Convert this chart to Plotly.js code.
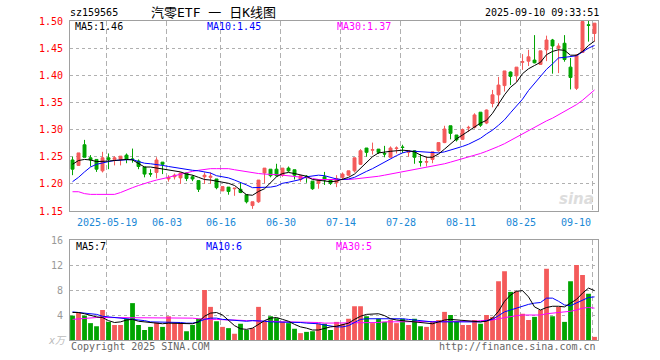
<!DOCTYPE html>
<html><head><meta charset="utf-8">
<script src="https://cdn.plot.ly/plotly-3.0.1.min.js"></script>
<style>html,body{margin:0;padding:0;background:#fff}#c{width:660px;height:360px}</style>
</head><body><div id="c"></div><script>
const tickIdx = [6,16,25,35,45,55,65,75,87];
const tickLabels = ['2025-05-19','06-03','06-16','06-30','07-14','07-28','08-11','08-25','09-10'];

const openP = [1.244,1.234,1.272,1.248,1.245,1.224,1.248,1.245,1.245,1.253,1.246,1.242,1.231,1.219,1.221,1.240,1.209,1.213,1.211,1.220,
1.213,1.206,1.213,1.212,1.209,1.187,1.194,1.191,1.190,1.180,1.160,1.167,1.220,1.227,1.227,1.216,1.229,1.226,1.208,1.214,
1.205,1.201,1.213,1.207,1.202,1.212,1.216,1.224,1.236,1.266,1.262,1.264,1.256,1.249,1.265,1.268,1.258,1.261,1.241,1.240,
1.245,1.261,1.276,1.307,1.290,1.282,1.303,1.304,1.332,1.312,1.348,1.364,1.381,1.406,1.399,1.424,1.426,1.428,1.420,1.447,
1.465,1.450,1.459,1.415,1.376,1.442,1.493,1.477];
const highP = [1.250,1.257,1.281,1.253,1.245,1.259,1.256,1.251,1.251,1.256,1.265,1.245,1.231,1.227,1.249,1.240,1.216,1.219,1.221,1.221,
1.216,1.206,1.221,1.221,1.209,1.195,1.194,1.192,1.203,1.180,1.167,1.207,1.229,1.227,1.237,1.229,1.232,1.226,1.215,1.216,
1.205,1.208,1.222,1.207,1.216,1.221,1.224,1.248,1.264,1.266,1.276,1.264,1.270,1.269,1.269,1.272,1.262,1.262,1.255,1.250,
1.259,1.276,1.307,1.307,1.290,1.302,1.307,1.330,1.332,1.337,1.373,1.397,1.408,1.407,1.415,1.439,1.447,1.474,1.445,1.473,
1.467,1.459,1.474,1.432,1.439,1.500,1.500,1.496];
const lowP = [1.216,1.233,1.249,1.232,1.222,1.221,1.227,1.234,1.234,1.238,1.239,1.227,1.212,1.213,1.210,1.218,1.204,1.208,1.200,1.205,
1.205,1.185,1.200,1.200,1.190,1.187,1.180,1.178,1.183,1.164,1.154,1.165,1.201,1.212,1.213,1.213,1.222,1.208,1.204,1.202,
1.189,1.191,1.198,1.198,1.194,1.207,1.215,1.221,1.235,1.250,1.254,1.255,1.249,1.249,1.256,1.257,1.250,1.237,1.232,1.232,
1.238,1.259,1.275,1.282,1.278,1.281,1.296,1.302,1.305,1.310,1.341,1.343,1.370,1.382,1.388,1.410,1.417,1.422,1.419,1.426,
1.403,1.404,1.425,1.374,1.373,1.441,1.462,1.462];
const closeP = [1.227,1.257,1.249,1.244,1.227,1.248,1.245,1.248,1.251,1.245,1.245,1.232,1.218,1.218,1.244,1.236,1.212,1.216,1.220,1.210,
1.209,1.190,1.216,1.214,1.193,1.195,1.186,1.192,1.184,1.167,1.167,1.207,1.229,1.215,1.215,1.229,1.224,1.216,1.215,1.213,
1.191,1.208,1.207,1.201,1.210,1.218,1.224,1.248,1.261,1.258,1.263,1.258,1.255,1.266,1.266,1.267,1.261,1.249,1.240,1.241,
1.259,1.276,1.301,1.293,1.281,1.300,1.304,1.327,1.308,1.336,1.364,1.382,1.408,1.398,1.415,1.425,1.434,1.423,1.445,1.465,
1.454,1.454,1.429,1.396,1.437,1.499,1.492,1.496];

const ma5P = [1.236,1.243,1.245,1.244,1.241,1.241,1.242,1.243,1.244,1.245,1.244,1.237,1.231,1.231,1.229,1.227,1.226,1.224,1.222,1.218,
1.216,1.212,1.208,1.207,1.205,1.203,1.201,1.197,1.189,1.180,1.179,1.186,1.191,1.203,1.213,1.219,1.221,1.219,1.216,1.214,
1.208,1.207,1.205,1.204,1.205,1.208,1.212,1.218,1.229,1.240,1.250,1.257,1.259,1.260,1.261,1.262,1.261,1.259,1.253,1.249,
1.249,1.255,1.264,1.274,1.283,1.290,1.297,1.304,1.312,1.317,1.330,1.347,1.364,1.378,1.387,1.403,1.412,1.418,1.424,1.438,
1.444,1.447,1.446,1.437,1.437,1.444,1.455,1.463];
const ma10P = [1.204,1.212,1.222,1.231,1.236,1.239,1.241,1.243,1.244,1.245,1.245,1.241,1.238,1.237,1.236,1.234,1.232,1.230,1.228,1.227,
1.225,1.224,1.222,1.220,1.215,1.213,1.211,1.207,1.203,1.198,1.193,1.193,1.193,1.194,1.196,1.201,1.203,1.205,1.208,1.213,
1.215,1.216,1.215,1.212,1.209,1.208,1.209,1.212,1.218,1.223,1.228,1.234,1.241,1.247,1.252,1.257,1.260,1.260,1.259,1.258,
1.258,1.257,1.259,1.262,1.265,1.269,1.273,1.278,1.284,1.292,1.299,1.308,1.318,1.331,1.344,1.356,1.372,1.385,1.400,1.411,
1.421,1.432,1.433,1.434,1.436,1.443,1.450,1.455];
const ma30P = [1.1855,1.1855,1.182,1.1806,1.1806,1.1806,1.1806,1.1806,1.184,1.189,1.193,1.197,1.201,1.204,1.207,1.209,1.212,1.215,1.218,1.221,
1.223,1.225,1.227,1.228,1.228,1.228,1.228,1.226,1.224,1.222,1.220,1.219,1.218,1.218,1.217,1.216,1.215,1.214,1.213,1.211,
1.210,1.208,1.208,1.208,1.207,1.207,1.208,1.209,1.210,1.211,1.213,1.214,1.216,1.218,1.220,1.222,1.224,1.227,1.229,1.230,
1.232,1.234,1.237,1.240,1.243,1.246,1.249,1.253,1.256,1.260,1.264,1.269,1.274,1.280,1.286,1.292,1.298,1.305,1.311,1.316,
1.321,1.327,1.333,1.339,1.346,1.354,1.363,1.373];

const volume = [3.9,4.4,3.9,2.7,2.2,4.8,2.9,2.4,2.4,3.4,5.9,2.4,1.6,2.1,2.8,2.1,3.8,2.7,2.7,1.4,
2.4,3.4,8.0,5.3,3.0,2.1,1.9,1.0,2.6,1.6,1.9,5.3,2.9,3.8,3.5,2.9,2.7,1.8,1.1,1.3,
1.4,2.6,2.6,1.6,2.9,2.6,3.4,5.4,5.4,3.8,2.7,3.4,2.9,3.2,2.7,3.4,2.4,3.4,2.2,2.1,
3.0,3.2,4.5,4.0,3.0,2.4,2.4,3.2,2.6,4.0,3.7,9.4,11.0,7.7,7.8,4.2,3.2,3.7,4.8,11.4,
3.8,5.3,2.9,9.4,12.0,10.4,7.4,0.5];
const ma5V = [4.4,4.4,4.2,3.9,3.7,3.6,3.1,2.8,2.9,3.2,3.3,3.0,2.9,2.8,2.6,2.6,2.7,2.7,2.7,2.6,
2.6,2.9,3.8,4.3,4.4,4.0,3.2,2.3,1.8,1.7,1.9,2.5,3.1,3.5,3.6,3.3,3.0,2.5,2.1,1.9,
1.6,1.6,1.9,2.1,2.2,2.4,2.7,3.3,3.8,4.1,4.2,4.2,3.9,3.4,3.2,3.1,3.0,2.9,2.8,2.6,
2.6,2.9,3.2,3.3,3.2,3.2,3.1,2.9,2.9,3.0,3.5,4.6,6.2,7.2,7.8,7.9,6.9,5.3,4.8,5.2,
5.4,5.4,5.3,5.9,6.5,7.5,8.3,7.9];
const ma10V = [4.5,4.4,4.3,4.2,4.1,3.8,3.7,3.6,3.6,3.5,3.4,3.2,3.1,2.9,2.9,2.8,2.8,2.8,2.8,2.7,
2.7,2.9,3.3,3.5,3.5,3.3,3.2,3.1,3.1,3.0,3.1,3.1,3.0,2.9,2.9,2.8,2.8,2.8,2.8,2.7,
2.7,2.6,2.4,2.2,2.1,2.1,2.3,2.8,3.3,3.4,3.4,3.5,3.5,3.5,3.5,3.4,3.3,3.2,3.0,2.9,
2.9,2.9,2.9,2.9,2.9,2.9,2.9,2.9,2.9,3.1,3.3,3.9,4.5,4.8,5.1,5.5,5.7,5.9,6.0,6.7,
6.7,6.2,5.6,5.5,5.9,6.4,6.8,6.9];
const ma30V = [3.3,3.4,3.5,3.5,3.6,3.6,3.6,3.6,3.6,3.5,3.5,3.5,3.5,3.5,3.5,3.5,3.5,3.5,3.5,3.5,
3.5,3.4,3.3,3.3,3.3,3.2,3.2,3.2,3.1,3.1,3.1,3.0,3.0,3.0,2.9,2.9,2.9,2.9,2.8,2.8,
2.8,2.8,2.7,2.7,2.7,2.7,2.7,2.8,2.8,2.8,2.8,2.8,2.9,2.9,2.9,2.9,2.9,2.9,2.9,2.9,
2.9,2.9,2.9,2.9,2.9,2.9,3.0,3.0,3.1,3.1,3.2,3.4,3.6,3.7,3.9,4.0,4.0,4.0,4.0,4.2,
4.3,4.3,4.4,4.6,4.8,5.1,5.2,5.1];

const priceTicks = [1.15,1.20,1.25,1.30,1.35,1.40,1.45,1.50];
const volTicks = [4,8,12,16];

const RED = '#f45a5a', GREEN = '#00a400';
const MONO = 'DejaVu Sans Mono, monospace';
const idx = closeP.map((_, i) => i);
const volColors = idx.map(i => closeP[i] >= openP[i] ? RED : GREEN);

const traces = [
  {type:'candlestick', x: idx, open: openP, high: highP, low: lowP, close: closeP,
   xaxis:'x', yaxis:'y', whiskerwidth:0,
   increasing:{line:{color:RED, width:1}, fillcolor:RED},
   decreasing:{line:{color:GREEN, width:1}, fillcolor:GREEN},
   hoverinfo:'skip', showlegend:false},
  {type:'scatter', mode:'lines', x: idx, y: ma30P, xaxis:'x', yaxis:'y', line:{color:'#ff00ff', width:1}, hoverinfo:'skip', showlegend:false},
  {type:'scatter', mode:'lines', x: idx, y: ma10P, xaxis:'x', yaxis:'y', line:{color:'#0000ff', width:1}, hoverinfo:'skip', showlegend:false},
  {type:'scatter', mode:'lines', x: idx, y: ma5P, xaxis:'x', yaxis:'y', line:{color:'#000000', width:1}, hoverinfo:'skip', showlegend:false},
  {type:'bar', x: idx, y: volume, xaxis:'x2', yaxis:'y2', width:0.8, marker:{color: volColors, line:{width:0}}, hoverinfo:'skip', showlegend:false},
  {type:'scatter', mode:'lines', x: idx, y: ma30V, xaxis:'x2', yaxis:'y2', line:{color:'#ff00ff', width:1}, hoverinfo:'skip', showlegend:false},
  {type:'scatter', mode:'lines', x: idx, y: ma10V, xaxis:'x2', yaxis:'y2', line:{color:'#0000ff', width:1}, hoverinfo:'skip', showlegend:false},
  {type:'scatter', mode:'lines', x: idx, y: ma5V, xaxis:'x2', yaxis:'y2', line:{color:'#000000', width:1}, hoverinfo:'skip', showlegend:false}
];

const xr = [-0.42, 87.58];
const gridX = tickIdx.map(v => v - 0.3);
const px = x => (x - 70) / 528;
const py = y => (360 - y) / 360;

function ann(text, x, y, color, opts) {
  return Object.assign({text, x: px(x), y: py(y), xref:'paper', yref:'paper', showarrow:false,
    xanchor:'left', yanchor:'middle', borderpad:0,
    font:{family: MONO, size:10, color}}, opts || {});
}

// date labels: centred under their gridline, last one kept inside the frame
const dateAnns = tickLabels.map((t, k) => {
  const last = k === tickLabels.length - 1;
  return {text: t, x: gridX[k], xref:'x', y: py(222), yref:'paper', showarrow:false,
    xanchor: last ? 'right' : 'center', xshift: last ? -1 : 0, yanchor:'middle', borderpad:0,
    font:{family: MONO, size:10, color:'#1a88d6'}};
});

const layout = {
  width:660, height:360, margin:{l:70, r:62, t:0, b:0},
  paper_bgcolor:'#fff', plot_bgcolor:'#fff', showlegend:false,
  boxgap:0.3,
  xaxis:{domain:[0,1], anchor:'y', range:xr, fixedrange:true, rangeslider:{visible:false},
    tickmode:'array', tickvals: gridX, showticklabels:false, ticks:'',
    showgrid:true, gridcolor:'#b0b0b0', griddash:'5px,3px', gridwidth:1, zeroline:false,
    showline:true, mirror:true, linecolor:'#a0a0a0', linewidth:1},
  yaxis:{domain:[(360-211)/360, (360-21)/360], anchor:'x', range:[1.15,1.50], fixedrange:true,
    tickmode:'array', tickvals: priceTicks, ticktext: priceTicks.map(v => v.toFixed(2)), ticks:'', ticklabelstandoff:4,
    tickfont:{family:MONO, size:10, color:'#ff0000'},
    showgrid:true, gridcolor:'#b0b0b0', griddash:'dot', gridwidth:1, zeroline:false,
    showline:true, mirror:true, linecolor:'#a0a0a0', linewidth:1},
  xaxis2:{domain:[0,1], anchor:'y2', range:xr, fixedrange:true,
    tickmode:'array', tickvals: gridX, showticklabels:false, ticks:'',
    showgrid:true, gridcolor:'#b0b0b0', griddash:'5px,3px', gridwidth:1, zeroline:false,
    showline:true, mirror:true, linecolor:'#a0a0a0', linewidth:1},
  yaxis2:{domain:[(360-340)/360, (360-240)/360], anchor:'x2', range:[0,16], fixedrange:true,
    tickmode:'array', tickvals: volTicks, ticktext: volTicks.map(String), ticks:'', ticklabelstandoff:4,
    tickfont:{family:MONO, size:10, color:'#999999'},
    showgrid:true, gridcolor:'#b0b0b0', griddash:'dot', gridwidth:1, zeroline:false,
    showline:true, mirror:true, linecolor:'#a0a0a0', linewidth:1},
  annotations:[
    ann('sz159565', 69, 13, '#000'),
    ann('汽零ETF 一 日K线图', 150, 13, '#000', {font:{family:'DejaVu Sans Mono, Noto Sans CJK SC', size:13, color:'#000'}}),
    ann('2025-09-10 09:33:51', 600, 13, '#000', {xanchor:'right'}),
    ann('MA5:1.46', 74, 27, '#000'),
    ann('MA10:1.45', 206, 27, '#0000ff'),
    ann('MA30:1.37', 336, 27, '#ff00ff'),
    ann('MA5:7', 75, 246, '#000'),
    ann('MA10:6', 205, 246, '#0000ff'),
    ann('MA30:5', 335, 246, '#ff00ff'),
    ann('Copyright 2025 SINA.COM', 70, 346, '#666666'),
    ann('http://finance.sina.com.cn', 597, 346, '#666666', {xanchor:'right'}),
    ann('x万', 57, 340, '#bbbbbb', {xanchor:'center', font:{family:'DejaVu Sans, Noto Sans CJK SC', size:10, color:'#bbbbbb', style:'italic'}}),
    ann('sina', 595, 199, '#dcdcdc', {xanchor:'right', font:{family:'DejaVu Sans', size:15, color:'#dddddd', style:'italic', weight:'bold'}})
  ].concat(dateAnns)
};

Plotly.newPlot('c', traces, layout, {displayModeBar:false, staticPlot:true});
</script></body></html>
